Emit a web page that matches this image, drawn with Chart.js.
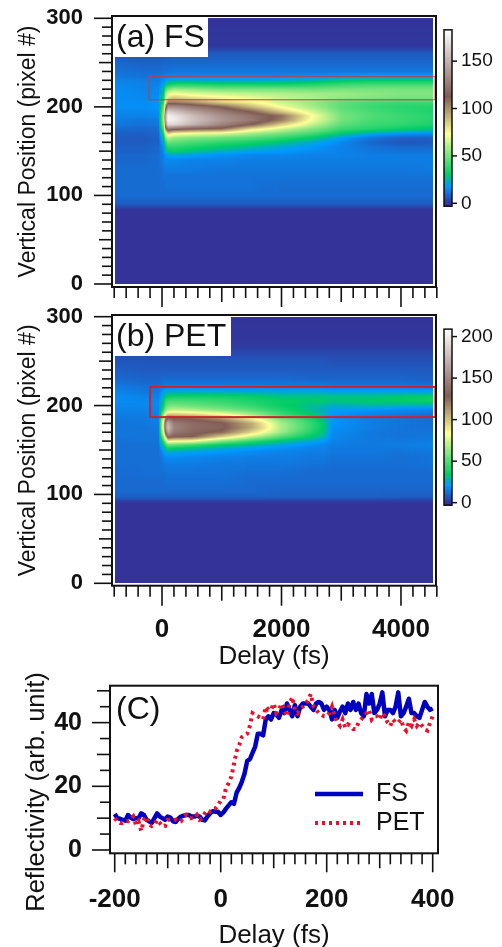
<!DOCTYPE html>
<html>
<head>
<meta charset="utf-8">
<script src="https://cdn.jsdelivr.net/npm/chart.js@4"></script>
<style>
html, body { margin: 0; background: #fff; }
canvas { position: absolute; left: 0; }
</style>
</head>
<body>
<canvas id="fsMap" width="502" height="310" style="top:0"></canvas>
<canvas id="petMap" width="502" height="375" style="top:300px"></canvas>
<canvas id="trace" width="502" height="287" style="top:660px"></canvas>
<script>
// Heat map grids: one array per delay column, values run up through the y rows
const fsDelays = [-840, -300, -60, 30, 60, 100, 200, 500, 1000, 1500, 2000, 2500, 3000, 3500, 4000, 4600];
const fsRows = [0, 84, 87, 92, 100, 110, 120, 130, 140, 146, 150, 155, 160, 165, 170, 175, 180, 185, 190, 195, 200, 205, 210, 215, 220, 225, 230, 235, 240, 250, 260, 268, 300];
const fsColumns = [
  [0,0,4,8,10,10,10,10,9,9,8,8,7,7,8,10,12,13,14,15,16,16,16,16,16,15,14,12,11,9,6,1,0],
  [0,0,4,8,10,10,10,10,9,9,8,8,7,7,8,9,11,12,14,15,16,16,15,15,14,14,13,11,10,8,6,1,0],
  [0,0,4,8,10,10,10,10,10,10,9,9,8,8,9,10,12,13,15,16,17,17,16,15,15,14,13,12,10,8,6,1,0],
  [0,0,4,8,10,10,11,12,14,14,16,18,22,28,36,46,55,60,60,55,48,40,34,30,26,20,16,13,11,9,6,1,0],
  [0,0,4,8,10,11,11,13,15,18,25,30,38,50,70,100,130,145,145,130,100,80,65,55,42,28,18,14,11,9,6,1,0],
  [0,0,4,8,10,11,11,13,15,20,30,38,48,62,85,125,165,178,178,160,135,105,82,68,50,32,20,14,11,9,6,1,0],
  [0,0,4,8,10,11,11,13,15,22,32,38,46,56,76,118,165,175,172,155,135,105,88,72,56,36,22,15,12,9,7,1,0],
  [0,0,4,8,10,11,11,13,14,20,28,35,42,52,72,112,150,158,155,142,125,100,82,68,54,36,22,15,12,9,7,1,0],
  [0,0,4,8,10,11,11,12,14,17,24,30,38,48,68,108,130,138,135,125,112,85,76,64,50,34,21,15,12,9,7,1,0],
  [0,0,4,8,10,11,11,12,13,15,20,26,34,44,58,80,112,125,122,110,90,76,70,62,50,34,21,15,12,9,7,1,0],
  [0,0,4,8,10,10,11,12,13,15,18,22,28,38,50,65,85,105,108,85,72,64,64,60,50,34,22,15,12,9,7,1,0],
  [0,0,4,8,10,10,11,12,13,14,16,18,22,30,42,52,64,72,74,66,58,56,60,58,48,36,24,16,12,9,7,1,0],
  [0,0,4,8,10,10,11,12,13,14,14,14,15,19,30,40,46,50,50,48,46,46,55,56,50,40,28,17,12,9,7,1,0],
  [0,0,4,8,10,10,11,12,13,13,12,11,9,12,22,36,40,42,44,42,40,42,52,54,50,42,30,18,12,9,7,1,0],
  [0,0,4,8,10,10,11,12,13,13,11,9,6,8,18,32,38,40,40,38,37,40,50,52,50,42,30,18,12,9,7,1,0],
  [0,0,4,8,10,10,11,13,13,13,11,9,7,8,16,28,34,36,36,35,36,40,50,52,50,42,30,18,12,9,7,1,0]
];

const petDelays = [-840, -300, -60, 30, 60, 100, 200, 500, 1000, 1500, 2000, 2500, 2700, 2850, 3500, 4000, 4600];
const petRows = [0, 90, 93, 97, 105, 115, 125, 135, 142, 148, 152, 156, 160, 165, 170, 175, 180, 185, 190, 195, 200, 205, 210, 215, 220, 225, 230, 240, 250, 260, 268, 300];
const petColumns = [
  [0,0,3,9,11,11,11,12,12,12,12,12,12,13,13,13,13,14,15,16,17,18,18,17,15,13,11,9,7,4,1,0],
  [0,0,3,9,11,11,12,12,12,12,12,12,13,13,13,13,14,14,15,16,17,17,16,14,13,11,10,8,7,4,1,0],
  [0,0,3,9,11,11,12,12,12,12,12,13,13,13,14,14,15,16,16,17,17,17,16,14,13,11,10,8,7,4,1,0],
  [0,0,3,9,11,11,12,14,16,20,26,34,46,66,84,96,94,80,64,46,38,34,28,22,16,13,11,8,7,4,1,0],
  [0,0,3,9,11,12,13,15,18,24,32,44,64,100,135,150,148,120,88,60,50,44,34,25,17,13,11,8,7,4,1,0],
  [0,0,3,9,11,12,13,15,18,26,38,56,88,135,165,178,170,140,100,68,56,48,36,26,18,13,11,8,7,4,1,0],
  [0,0,3,9,11,12,13,15,18,25,36,54,85,130,142,148,145,130,100,72,58,48,38,26,18,13,11,8,7,4,1,0],
  [0,0,3,9,11,12,13,15,17,23,32,48,82,128,134,138,136,128,96,68,55,48,38,27,18,13,11,8,7,4,1,0],
  [0,0,3,9,11,12,13,14,16,20,26,36,60,98,125,132,130,115,85,60,50,44,38,27,18,13,11,8,7,4,1,0],
  [0,0,3,9,11,11,12,14,15,18,22,30,44,72,95,108,106,88,66,52,44,40,36,26,18,13,11,8,7,4,1,0],
  [0,0,3,9,10,11,12,14,15,16,19,24,32,50,64,68,66,58,46,40,36,36,32,25,17,13,11,8,7,4,1,0],
  [0,0,3,9,10,11,11,13,14,15,16,19,24,34,40,44,44,40,34,30,30,34,32,25,17,13,10,8,7,4,1,0],
  [0,0,3,9,10,11,11,13,14,15,16,17,21,28,32,34,34,30,28,26,29,34,32,25,17,13,10,8,7,4,1,0],
  [0,0,3,9,10,11,11,12,13,14,14,15,16,17,18,19,20,20,20,22,26,32,32,24,16,12,10,8,6,4,1,0],
  [0,0,3,9,10,11,11,12,13,14,14,14,14,14,14,15,15,15,16,20,28,34,32,24,16,12,10,8,6,4,1,0],
  [0,0,3,8,10,11,11,12,12,13,14,15,14,13,13,13,13,13,14,17,27,35,34,24,16,12,10,8,6,4,1,0],
  [0,0,3,8,10,11,11,13,13,14,15,16,15,14,13,12,12,12,12,16,26,38,36,24,15,11,9,8,6,4,1,0]
];

// Reflectivity traces, one reading every 5 fs from -200 to 400
const traceDelays = Array.from({ length: 121 }, (_, i) => -200 + i * 5);
const fsTrace = [
  11.3,10,9.8,9.5,9.2,11,10.2,9.7,10,10,
  11.5,11,9.5,9,8.5,10,11.5,10.5,10,9.5,
  10.5,10.2,9,8.8,9.8,10.5,10.8,11,11,10.5,
  10.5,10.8,10.5,9.5,9.3,10.5,11.5,12.2,12,12,
  11,11.8,13,14,15,14.5,18,19.5,21.5,24,
  28,28.5,30.5,32.5,36.5,36.5,36,41,42,41,
  43,42.5,41.5,44,43,46,44,42,45.5,42,
  45,46,46,46,45,44,46,46.5,46,44,
  45,44,41,44,41.5,43.5,45,43,46,44,
  46.5,44,46,43,42,49,46,49,43,44,
  46,49.5,42,44,44,43,45,49.5,42,43,
  45,47.5,43,43,42,41.5,44,46.5,45,44,
  44.5
];
const petTrace = [
  10,9,8.5,8.5,9,9,9.5,10.5,8,9,
  6,9.5,10.5,8,7.5,8,9.5,8.5,7.5,7.5,
  9.5,9.5,9.5,9.5,9,9,10.5,11,10,10,
  10,11,9.5,10,11.5,12.5,12,12.5,13,14,
  15.5,16,19.5,21,23,27,31,33,35.5,36,
  36.5,39,43,42.5,42,41.5,41,45,44,44,
  46,43,44,46,44,42,46,48,44,43,
  44.5,45,46,47,49,45,44,43,42.5,42,
  42,43,45,42,40,39,41,38.5,39.5,39,
  38,38,40,41,42,43,44,41,42,42,
  41,43,42,40,39,41,40,40,41,38.5,
  37.5,40,39,41,39,40,39,38,37.5,40,
  42
];

// Tick lists
const mapYTicks = Array.from({ length: 31 }, (_, i) => i * 10);
const mapXTicks = Array.from({ length: 28 }, (_, i) => -800 + i * 200);
const traceYTicks = Array.from({ length: 11 }, (_, i) => i * 5);
const traceXTicks = Array.from({ length: 31 }, (_, i) => -200 + i * 20);
const fsBarTicks = [0, 50, 100, 150];
const petBarTicks = [0, 50, 100, 150, 200];

const FONT = '"Liberation Sans", Arial, sans-serif';
const INK = '#111';

// terrain style colour table, position as a fraction of the bar top
const colourStops = [
  [0, [51, 51, 153]],
  [0.098, [0, 153, 255]],
  [0.165, [0, 204, 102]],
  [0.4, [255, 255, 153]],
  [0.615, [128, 92, 84]],
  [1, [255, 255, 255]]
];

function colourAt(f) {
  f = Math.max(0, Math.min(1, f));
  let i = 0;
  while (i < colourStops.length - 2 && f > colourStops[i + 1][0]) i++;
  const [a, ca] = colourStops[i];
  const [b, cb] = colourStops[i + 1];
  const t = (f - a) / (b - a);
  return ca.map((c, k) => Math.round(c + (cb[k] - c) * t));
}

function findCell(list, v) {
  let i = 0;
  while (i < list.length - 2 && v > list[i + 1]) i++;
  const t = Math.max(0, Math.min(1, (v - list[i]) / (list[i + 1] - list[i])));
  return [i, t];
}

// tick padding would otherwise be added above and below the plot area
function pinScale(s, size) {
  if (s.isHorizontal()) s.height = size; else s.width = size;
  s.paddingTop = s.paddingBottom = s.paddingLeft = s.paddingRight = 0;
}

// Shades the grid, bilinear between readings, placed through the chart's scales
function drawHeat(chart, map) {
  const xs = chart.scales.x, ys = chart.scales.y;
  const x0 = Math.round(xs.getPixelForValue(map.xFrom)), x1 = Math.round(xs.getPixelForValue(map.xTo));
  const y0 = Math.round(ys.getPixelForValue(300)), y1 = Math.round(ys.getPixelForValue(0));
  const off = document.createElement('canvas');
  off.width = x1 - x0;
  off.height = y1 - y0;
  const octx = off.getContext('2d');
  const img = octx.createImageData(off.width, off.height);
  for (let py = 0; py < off.height; py++) {
    const [r, rt] = findCell(map.rows, ys.getValueForPixel(y0 + py + 0.5));
    for (let px = 0; px < off.width; px++) {
      const [c, ct] = findCell(map.delays, xs.getValueForPixel(x0 + px + 0.5));
      const a = map.columns[c], b = map.columns[c + 1];
      const low = a[r] + (b[r] - a[r]) * ct;
      const high = a[r + 1] + (b[r + 1] - a[r + 1]) * ct;
      const rgb = colourAt((low + (high - low) * rt) / map.barTop);
      const o = (py * off.width + px) * 4;
      img.data[o] = rgb[0];
      img.data[o + 1] = rgb[1];
      img.data[o + 2] = rgb[2];
      img.data[o + 3] = 255;
    }
  }
  octx.putImageData(img, 0, 0);
  chart.ctx.drawImage(off, x0, y0);
}

function drawColourBar(chart, map) {
  const ctx = chart.ctx, cb = chart.scales.cb;
  const top = cb.getPixelForValue(map.barTop), bottom = cb.getPixelForValue(-3);
  for (let py = Math.floor(top); py < bottom; py++) {
    ctx.fillStyle = 'rgb(' + colourAt(cb.getValueForPixel(py + 0.5) / map.barTop).join(',') + ')';
    ctx.fillRect(444, py, 8, 1);
  }
  ctx.strokeStyle = INK;
  ctx.lineWidth = 1.5;
  ctx.strokeRect(444, top, 8, bottom - top);
  cb.ticks.forEach(t => {
    const py = cb.getPixelForValue(t.value);
    ctx.beginPath();
    ctx.moveTo(452, py);
    ctx.lineTo(457, py);
    ctx.stroke();
  });
}

function drawTicks(chart, xLen, yLen) {
  const ctx = chart.ctx, area = chart.chartArea;
  ctx.strokeStyle = INK;
  ctx.lineWidth = 2;
  ctx.strokeRect(area.left, area.top, area.right - area.left, area.bottom - area.top);
  ctx.lineWidth = 1.6;
  chart.scales.x.ticks.forEach(t => {
    const px = chart.scales.x.getPixelForValue(t.value);
    ctx.beginPath();
    ctx.moveTo(px, area.bottom);
    ctx.lineTo(px, area.bottom + xLen(t.value));
    ctx.stroke();
  });
  chart.scales.y.ticks.forEach(t => {
    const py = chart.scales.y.getPixelForValue(t.value);
    ctx.beginPath();
    ctx.moveTo(area.left, py);
    ctx.lineTo(area.left - yLen(t.value), py);
    ctx.stroke();
  });
}

function mapChart(id, map) {
  const canvasTop = map.canvasTop;
  return new Chart(document.getElementById(id), {
    type: 'scatter',
    data: {
      datasets: [{
        label: map.name,
        data: map.delays.flatMap((d, c) => map.rows.map((r, i) => ({ x: d, y: r, v: map.columns[c][i] }))),
        pointRadius: 0
      }]
    },
    options: {
      responsive: false,
      animation: false,
      devicePixelRatio: 1,
      layout: { padding: { top: map.frameTop - canvasTop, bottom: 0 } },
      plugins: { legend: { display: false }, tooltip: { enabled: false } },
      scales: {
        x: {
          type: 'linear', min: -837, max: 4586,
          afterBuildTicks: s => { s.ticks = mapXTicks.map(value => ({ value })); },
          afterFit: s => pinScale(s, map.xHeight),
          grid: { display: false }, border: { display: false },
          ticks: {
            autoSkip: false, maxRotation: 0, padding: 21, color: INK,
            font: { family: FONT, size: 26, weight: 'bold' },
            callback: v => (map.showX && v % 2000 === 0 ? v : '')
          },
          title: {
            display: map.showX, text: 'Delay (fs)', color: INK,
            font: { family: FONT, size: 26, lineHeight: 1 }, padding: { top: 0, bottom: 5 }
          }
        },
        y: {
          min: map.yMin, max: map.yMax,
          afterBuildTicks: s => { s.ticks = mapYTicks.map(value => ({ value })); },
          afterFit: s => pinScale(s, 112),
          grid: { display: false }, border: { display: false },
          ticks: {
            autoSkip: false, padding: 21, color: INK,
            font: { family: FONT, size: 22, weight: 'bold' },
            callback: v => (v % 100 === 0 ? v : '')
          },
          title: {
            display: true, text: 'Vertical Position (pixel #)', color: INK,
            font: { family: FONT, size: 23 }, padding: { top: 15, bottom: 0 }
          }
        },
        cb: {
          axis: 'y', position: 'right', min: map.barMin, max: map.barMax,
          afterBuildTicks: s => { s.ticks = map.barTicks.map(value => ({ value })); },
          afterFit: s => pinScale(s, 66),
          grid: { display: false }, border: { display: false },
          ticks: { autoSkip: false, padding: 17, color: INK, font: { family: FONT, size: 19 } }
        }
      }
    },
    plugins: [{
      id: 'heat',
      beforeDatasetsDraw(chart) {
        drawHeat(chart, map);
      },
      afterDatasetsDraw(chart) {
        const ctx = chart.ctx, xs = chart.scales.x, ys = chart.scales.y;
        ctx.strokeStyle = map.boxColour;
        ctx.lineWidth = map.boxWidth;
        ctx.strokeRect(xs.getPixelForValue(map.box[0]), ys.getPixelForValue(map.box[3]),
          xs.getPixelForValue(map.box[1]) - xs.getPixelForValue(map.box[0]),
          ys.getPixelForValue(map.box[2]) - ys.getPixelForValue(map.box[3]));
        ctx.fillStyle = '#fff';
        ctx.fillRect(115, map.frameTop - canvasTop + 2, map.tagWidth, 39);
        ctx.fillStyle = INK;
        ctx.font = '32px ' + FONT;
        ctx.textAlign = 'left';
        ctx.textBaseline = 'middle';
        ctx.fillText(map.tag, 116, map.frameTop - canvasTop + 22);
        drawColourBar(chart, map);
        drawTicks(chart,
          v => (v % 2000 === 0 ? 20 : v % 1000 === 0 ? 15 : 11),
          v => (v % 100 === 0 ? 18 : v % 50 === 0 ? 13 : 10));
      }
    }]
  });
}

mapChart('fsMap', {
  name: 'FS', tag: '(a) FS', tagWidth: 93, canvasTop: 0, frameTop: 16, xHeight: 23, showX: false,
  delays: fsDelays, rows: fsRows, columns: fsColumns, xFrom: -787, xTo: 4535,
  yMin: -3.4, yMax: 302.6, barMin: -88.3, barMax: 197.6, barTop: 183, barTicks: fsBarTicks,
  box: [-218, 4570, 208, 234], boxColour: '#c43c3c', boxWidth: 1
});

mapChart('petMap', {
  name: 'PET', tag: '(b) PET', tagWidth: 116, canvasTop: 300, frameTop: 315, xHeight: 89.3, showX: true,
  delays: petDelays, rows: petRows, columns: petColumns, xFrom: -787, xTo: 4535,
  yMin: -2.7, yMax: 301.9, barMin: -100, barMax: 226, barTop: 209, barTicks: petBarTicks,
  box: [-200, 4575, 187, 221], boxColour: '#d2202c', boxWidth: 2
});

new Chart(document.getElementById('trace'), {
  type: 'line',
  data: {
    datasets: [
      {
        label: 'FS', order: 2,
        data: traceDelays.map((x, i) => ({ x, y: fsTrace[i] })),
        borderColor: '#0000c0', borderWidth: 4.5, borderJoinStyle: 'round', pointRadius: 0, tension: 0
      },
      {
        label: 'PET', order: 1,
        data: traceDelays.map((x, i) => ({ x, y: petTrace[i] })),
        borderColor: '#e8102a', borderWidth: 4, borderDash: [3, 4], pointRadius: 0, tension: 0
      }
    ]
  },
  options: {
    responsive: false,
    animation: false,
    devicePixelRatio: 1,
    layout: { padding: { top: 25.7, right: 64, bottom: 0 } },
    plugins: { legend: { display: false }, tooltip: { enabled: false } },
    scales: {
      x: {
        type: 'linear', min: -208.9, max: 410,
        afterBuildTicks: s => { s.ticks = traceXTicks.map(value => ({ value })); },
        afterFit: s => pinScale(s, 93.7),
        grid: { display: false }, border: { display: false },
        ticks: {
          autoSkip: false, maxRotation: 0, padding: 23, color: INK,
          font: { family: FONT, size: 26, weight: 'bold' },
          callback: v => (v % 200 === 0 ? v : '')
        },
        title: {
          display: true, text: 'Delay (fs)', color: INK,
          font: { family: FONT, size: 26, lineHeight: 1 }, padding: { top: 0, bottom: -2 }
        }
      },
      y: {
        min: -1.04, max: 51.6,
        afterBuildTicks: s => { s.ticks = traceYTicks.map(value => ({ value })); },
        afterFit: s => pinScale(s, 110),
        grid: { display: false }, border: { display: false },
        ticks: {
          autoSkip: false, padding: 20, color: INK,
          font: { family: FONT, size: 25, weight: 'bold' },
          callback: v => (v % 20 === 0 ? v : '')
        }
      }
    }
  },
  plugins: [{
    id: 'traceDecor',
    afterDatasetsDraw(chart) {
      const ctx = chart.ctx;
      drawTicks(chart,
        v => (v % 200 === 0 ? 19 : v % 100 === 0 ? 15 : 11),
        v => (v % 20 === 0 ? 18 : v % 10 === 0 ? 13 : 10));
      ctx.fillStyle = INK;
      ctx.textBaseline = 'middle';
      ctx.textAlign = 'left';
      ctx.font = '32px ' + FONT;
      ctx.fillText('(C)', 116, 50);
      ctx.font = '25px ' + FONT;
      chart.data.datasets.forEach((d, i) => {
        const py = 134 + i * 29;
        ctx.save();
        ctx.strokeStyle = d.borderColor;
        ctx.lineWidth = d.borderWidth;
        ctx.setLineDash(d.borderDash || []);
        ctx.beginPath();
        ctx.moveTo(315, py);
        ctx.lineTo(363, py);
        ctx.stroke();
        ctx.restore();
        ctx.fillText(d.label, 376, py);
      });
      ctx.save();
      ctx.translate(36.5, 132);
      ctx.rotate(-Math.PI / 2);
      ctx.textAlign = 'center';
      ctx.font = '25.5px ' + FONT;
      ctx.fillText('Reflectivity (arb. unit)', 0, 0);
      ctx.restore();
    }
  }]
});
</script>
</body>
</html>
